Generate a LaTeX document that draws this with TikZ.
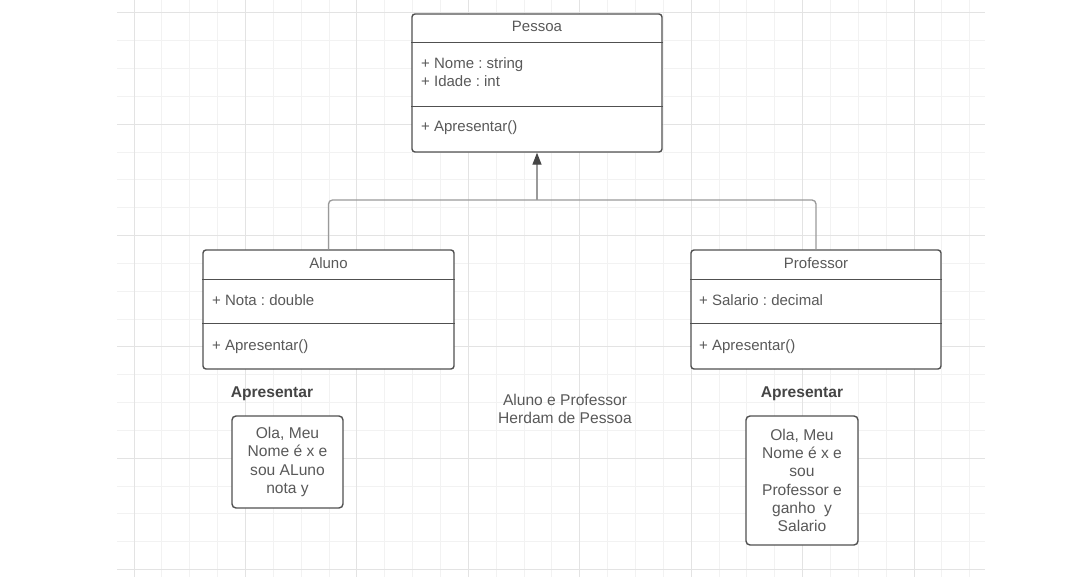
\documentclass[tikz,border=0pt]{standalone}
\usepackage{fontspec}
\setmainfont{Liberation Sans}
\usetikzlibrary{positioning,arrows.meta,calc}
\frenchspacing
\definecolor{gridminor}{HTML}{F2F2F2}
\definecolor{gridmajor}{HTML}{E3E3E3}
\definecolor{boxline}{HTML}{505050}
\definecolor{txtgray}{HTML}{595959}
\definecolor{linkgray}{HTML}{9A9A9A}
\definecolor{tipdark}{HTML}{454545}

\tikzset{
  umlbox/.style={draw=boxline, line width=1.4pt, rounded corners=3pt, fill=white, inner sep=0pt},
  umlsep/.style={draw=boxline, line width=1.4pt},
  umltext/.style={text=txtgray, font=\fontsize{15}{18}\selectfont, inner sep=0pt},
  notebox/.style={umlbox, umltext, font=\fontsize{15.6}{18.2}\selectfont, align=center, rounded corners=4pt},
  notetitle/.style={umltext, text=tipdark, font=\bfseries\fontsize{15.6}{18}\selectfont},
  inherit/.style={draw=linkgray, line width=1.3pt, rounded corners=4pt}
}

\begin{document}
\begin{tikzpicture}[x=1pt, y=-1pt]
  \useasboundingbox[fill=white] (0,0) rectangle (1080,577);

  % grid in the background
  \foreach \i in {0,...,30} {
    \draw[gridminor, line width=1pt] ({134+27.86*\i},0) -- ({134+27.86*\i},577);
  }
  \foreach \j in {0,...,20} {
    \draw[gridminor, line width=1pt] (117,{13+27.83*\j}) -- (985,{13+27.83*\j});
  }
  \foreach \i in {0,4,...,28} {
    \draw[gridmajor, line width=1pt] ({134+27.86*\i},0) -- ({134+27.86*\i},577);
  }
  \foreach \j in {0,4,...,20} {
    \draw[gridmajor, line width=1pt] (117,{13+27.83*\j}) -- (985,{13+27.83*\j});
  }

  % class Pessoa
  \node[umlbox, minimum width=250pt, minimum height=138pt] (pessoa) at (537,83) {};
  \draw[umlsep] ([yshift=-29pt]pessoa.north west) -- ([yshift=-29pt]pessoa.north east);
  \draw[umlsep] ([yshift=-93pt]pessoa.north west) -- ([yshift=-93pt]pessoa.north east);
  \node[umltext, anchor=base] (pessoa title) at (537,32) {Pessoa};
  \node[umltext, anchor=base west] (pessoa nome) at (421,69) {+ Nome : string};
  \node[umltext, anchor=base west] (pessoa idade) at (421,87) {+ Idade : int};
  \node[umltext, anchor=base west] (pessoa apresentar) at (421,132) {+ Apresentar()};

  % class Aluno
  \node[umlbox, minimum width=251pt, minimum height=119pt] (aluno) at (328.5,309.5) {};
  \draw[umlsep] ([yshift=-30pt]aluno.north west) -- ([yshift=-30pt]aluno.north east);
  \draw[umlsep] ([yshift=-74pt]aluno.north west) -- ([yshift=-74pt]aluno.north east);
  \node[umltext, anchor=base] (aluno title) at (328.5,269) {Aluno};
  \node[umltext, anchor=base west] (aluno nota) at (212,306) {+ Nota : double};
  \node[umltext, anchor=base west] (aluno apresentar) at (212,351) {+ Apresentar()};

  % class Professor
  \node[umlbox, minimum width=250pt, minimum height=119pt] (professor) at (816,309.5) {};
  \draw[umlsep] ([yshift=-30pt]professor.north west) -- ([yshift=-30pt]professor.north east);
  \draw[umlsep] ([yshift=-74pt]professor.north west) -- ([yshift=-74pt]professor.north east);
  \node[umltext, anchor=base] (professor title) at (816,269) {Professor};
  \node[umltext, anchor=base west] (professor salario) at (699,306) {+ Salario : decimal};
  \node[umltext, anchor=base west] (professor apresentar) at (699,351) {+ Apresentar()};

  % inheritance
  \coordinate (join) at (537,200);
  \draw[inherit] (aluno.north) -- (aluno.north |- join) -- (professor.north |- join) -- (professor.north);
  \draw[draw=linkgray, line width=1.3pt, -{Triangle[length=12pt, width=9pt, color=tipdark]}] (join) -- (pessoa.south);

  % notes
  \node[notetitle, anchor=base] (aluno note title) at (272,398) {Apresentar};
  \node[notebox, minimum width=111pt, minimum height=92pt] (aluno note) at (287.5,462)
    {Ola, Meu\\Nome é x e\\sou ALuno\\nota y};
  \node[notetitle, anchor=base] (professor note title) at (802,398) {Apresentar};
  \node[notebox, minimum width=112pt, minimum height=129pt] (professor note) at (802,480.5)
    {Ola, Meu\\Nome é x e\\sou\\Professor e\\ganho\ \ y\\Salario};
  \node[umltext, font=\fontsize{15.6}{18}\selectfont, align=center] (heranca) at (565,409)
    {Aluno e Professor\\Herdam de Pessoa};
\end{tikzpicture}
\end{document}
